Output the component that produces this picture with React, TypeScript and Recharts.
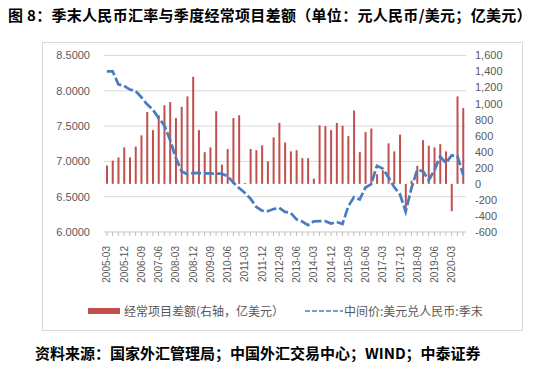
import React from "react";
import {
  ComposedChart,
  Bar,
  Line,
  XAxis,
  YAxis,
  CartesianGrid,
} from "recharts";

// quarter-end labels
const quarters = [
  "2005-03", "2005-06", "2005-09", "2005-12",
  "2006-03", "2006-06", "2006-09", "2006-12",
  "2007-03", "2007-06", "2007-09", "2007-12",
  "2008-03", "2008-06", "2008-09", "2008-12",
  "2009-03", "2009-06", "2009-09", "2009-12",
  "2010-03", "2010-06", "2010-09", "2010-12",
  "2011-03", "2011-06", "2011-09", "2011-12",
  "2012-03", "2012-06", "2012-09", "2012-12",
  "2013-03", "2013-06", "2013-09", "2013-12",
  "2014-03", "2014-06", "2014-09", "2014-12",
  "2015-03", "2015-06", "2015-09", "2015-12",
  "2016-03", "2016-06", "2016-09", "2016-12",
  "2017-03", "2017-06", "2017-09", "2017-12",
  "2018-03", "2018-06", "2018-09", "2018-12",
  "2019-03", "2019-06", "2019-09", "2019-12",
  "2020-03", "2020-06", "2020-09",
];

// current account balance, 100m USD (right axis)
const currentAccount = [
  230, 290, 330, 455,
  330, 465, 605, 895,
  670, 855, 980, 1020,
  820, 960, 1090, 1335,
  670, 395, 455, 905,
  240, 435, 820, 855,
  10, 435, 420, 480,
  280, 580, 760, 515,
  405, 420, 320, 320,
  65, 730, 720, 670,
  760, 725, 595, 915,
  395, 645, 690, 120,
  170, 505, 405, 615,
  -320, 40, 225, 545,
  475, 455, 495, 405,
  -340, 1090, 945,
];

// USD/CNY central parity, quarter end (left axis)
const usdCny = [
  8.2765, 8.2765, 8.092, 8.0702,
  8.017, 7.9956, 7.9087, 7.8087,
  7.7342, 7.6155, 7.5108, 7.3046,
  7.05, 6.8591, 6.8183, 6.8346,
  6.8359, 6.8319, 6.829, 6.8282,
  6.8263, 6.7909, 6.7011, 6.6227,
  6.5564, 6.4716, 6.3549, 6.3009,
  6.2943, 6.3249, 6.341, 6.2855,
  6.2689, 6.1787, 6.148, 6.0969,
  6.1521, 6.1528, 6.1525, 6.119,
  6.1422, 6.1136, 6.3613, 6.4936,
  6.4612, 6.6312, 6.6778, 6.937,
  6.8993, 6.7744, 6.6369, 6.5342,
  6.2881, 6.62, 6.8792, 6.8632,
  6.7335, 6.8747, 7.0729, 6.9762,
  7.0851, 7.0795, 6.8101,
];

const leftTicks = [6.0, 6.5, 7.0, 7.5, 8.0, 8.5];
const rightTicks = [-600, -400, -200, 0, 200, 400, 600, 800, 1000, 1200, 1400, 1600];

const data = quarters.map((q, i) => ({
  quarter: q,
  ca: currentAccount[i],
  rate: usdCny[i],
}));

const RED = "#c0504d";
const BLUE = "#4a7dc0";
const GREY = "#595959";
const CJK = '"Noto Sans CJK SC", "Liberation Sans", sans-serif';
const LATIN = '"Liberation Sans", sans-serif';

const XTick = (props: any) => {
  const { x, y, payload, index } = props;
  if (index % 3 !== 0) return null;
  const tx = x + 3.6;
  const ty = y + 8;
  return (
    <text
      x={tx}
      y={ty}
      transform={`rotate(-90 ${tx} ${ty})`}
      textAnchor="end"
      fontSize={10}
      fill={GREY}
      fontFamily={LATIN}
    >
      {payload.value}
    </text>
  );
};

export default function App() {
  return (
    <div
      style={{
        position: "absolute",
        left: 0,
        top: 0,
        width: 554,
        height: 370,
        background: "#fff",
        overflow: "hidden",
      }}
    >
      <div
        style={{
          position: "absolute",
          left: 8,
          top: 5,
          fontFamily: CJK,
          fontWeight: 700,
          fontSize: 15,
          lineHeight: "20px",
          letterSpacing: 0.3,
          color: "#000",
          whiteSpace: "nowrap",
        }}
      >
        图 8：季末人民币汇率与季度经常项目差额（单位：元人民币/美元；亿美元）
      </div>

      {/* chart frame */}
      <div
        style={{
          position: "absolute",
          left: 42,
          top: 42,
          width: 481,
          height: 289,
          border: "1px solid #d9d9d9",
          boxSizing: "border-box",
        }}
      />

      <div style={{ position: "absolute", left: 0, top: 0 }}>
        <ComposedChart
          width={554}
          height={370}
          data={data}
          margin={{ top: 55.5, right: 28, bottom: 88, left: 0 }}
        >
          <CartesianGrid
            yAxisId="left"
            vertical={false}
            stroke="#d9d9d9"
            strokeWidth={1}
          />
          <XAxis
            dataKey="quarter"
            interval={0}
            height={50}
            tick={<XTick />}
            tickSize={4}
            tickLine={{ stroke: "#bfbfbf" }}
            axisLine={{ stroke: "#d9d9d9" }}
          />
          <YAxis
            yAxisId="left"
            domain={[6, 8.5]}
            ticks={leftTicks}
            interval={0}
            width={104}
            axisLine={false}
            tickLine={false}
            tickSize={0}
            tickMargin={14}
            tickFormatter={(v: number) => v.toFixed(4)}
            tick={{ fontSize: 11, fill: GREY, fontFamily: LATIN }}
          />
          <YAxis
            yAxisId="right"
            orientation="right"
            domain={[-600, 1600]}
            ticks={rightTicks}
            interval={0}
            width={60}
            axisLine={false}
            tickLine={false}
            tickSize={0}
            tickMargin={9}
            tickFormatter={(v: number) => v.toLocaleString("en-US")}
            tick={{ fontSize: 11, fill: GREY, fontFamily: LATIN }}
          />
          <Bar
            yAxisId="right"
            dataKey="ca"
            fill={RED}
            barSize={2}
            isAnimationActive={false}
          />
          <Line
            yAxisId="left"
            type="linear"
            dataKey="rate"
            stroke={BLUE}
            strokeWidth={2.75}
            strokeDasharray="10 3"
            dot={false}
            isAnimationActive={false}
          />
        </ComposedChart>
      </div>

      {/* legend */}
      <div
        style={{
          position: "absolute",
          left: 88,
          top: 308,
          width: 32,
          height: 6,
          background: RED,
        }}
      />
      <div
        style={{
          position: "absolute",
          left: 124,
          top: 302,
          fontFamily: CJK,
          fontSize: 12,
          lineHeight: "18px",
          color: GREY,
          whiteSpace: "nowrap",
        }}
      >
        经常项目差额(右轴，亿美元）
      </div>
      <svg
        style={{ position: "absolute", left: 304, top: 309 }}
        width={40}
        height={4}
      >
        <line x1={1} y1={2} x2={39} y2={2} stroke={BLUE} strokeWidth={1.5} strokeDasharray="5 2" />
      </svg>
      <div
        style={{
          position: "absolute",
          left: 344,
          top: 302,
          fontFamily: CJK,
          fontSize: 12,
          lineHeight: "18px",
          color: GREY,
          whiteSpace: "nowrap",
        }}
      >
        中间价:美元兑人民币:季末
      </div>

      {/* source note */}
      <div
        style={{
          position: "absolute",
          left: 35,
          top: 343,
          fontFamily: CJK,
          fontWeight: 700,
          fontSize: 15,
          lineHeight: "20px",
          color: "#000",
          whiteSpace: "nowrap",
        }}
      >
        资料来源：国家外汇管理局；中国外汇交易中心；WIND；中泰证券
      </div>
    </div>
  );
}
